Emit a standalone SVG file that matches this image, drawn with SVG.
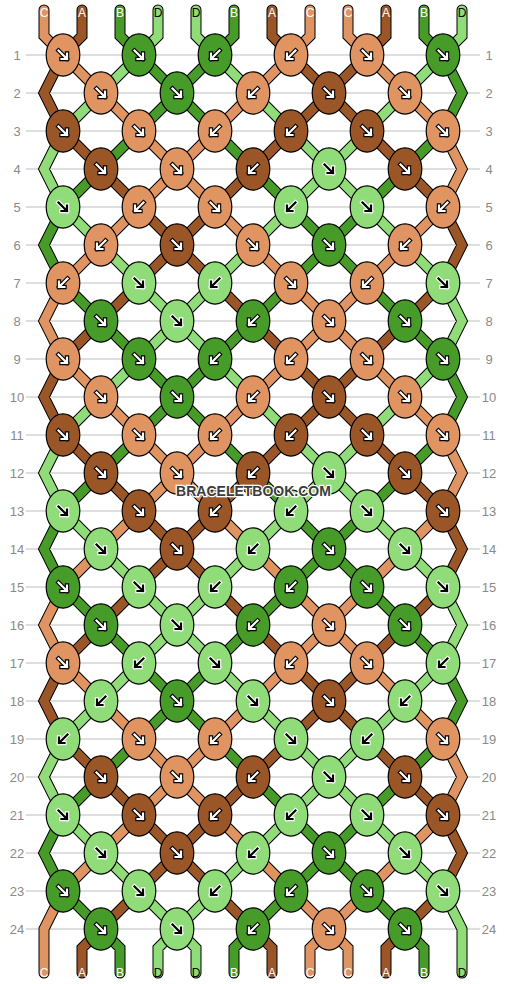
<svg xmlns="http://www.w3.org/2000/svg" xmlns:xlink="http://www.w3.org/1999/xlink" width="506" height="984" viewBox="0 0 506 984">
<style>
.gl{stroke:#bdbdbd;stroke-width:1}
.n{font-family:"Liberation Sans",Arial,sans-serif;font-size:13px;fill:#8a8a8a;text-anchor:middle}
.o{fill:none;stroke:#000;stroke-width:11;stroke-linejoin:miter;stroke-linecap:round}
.t{fill:none;stroke-width:9;stroke-linejoin:miter;stroke-linecap:round}
.tA{stroke:#9b5628}.tB{stroke:#479c29}.tC{stroke:#df9462}.tD{stroke:#8fdc78}
ellipse{rx:16.8px;ry:21.2px;stroke:#000;stroke-width:1.2}
.A{fill:#9b5628}.B{fill:#479c29}.C{fill:#df9462}.D{fill:#8fdc78}
.ao{fill:none;stroke:#000;stroke-width:4.4;stroke-linecap:square}
.ai{fill:none;stroke:#fff;stroke-width:2.2;stroke-linecap:square}
.bo{fill:none;stroke:#fff;stroke-width:4.4;stroke-linecap:square}
.bi{fill:none;stroke:#000;stroke-width:2.2;stroke-linecap:square}
.l{font-family:"Liberation Sans",Arial,sans-serif;font-size:12px;text-anchor:middle}
.lw{fill:#fff}.lk{fill:#000}
.wm{font-family:"Liberation Sans",Arial,sans-serif;font-size:14px;font-weight:bold;fill:#3d3d3d;stroke:#fff;stroke-width:2.5;paint-order:stroke;text-anchor:middle}
</style>
<defs>
<g id="fw"><path class="ao" d="M-4.5-4.5L4 4M4-1.5V4H-1.5"/><path class="ai" d="M-4.5-4.5L4 4M4-1.5V4H-1.5"/></g>
<g id="bw"><path class="ao" d="M4.5-4.5L-4 4M-4-1.5V4H1.5"/><path class="ai" d="M4.5-4.5L-4 4M-4-1.5V4H1.5"/></g>
<g id="fk"><path class="bo" d="M-4.5-4.5L4 4M4-1.5V4H-1.5"/><path class="bi" d="M-4.5-4.5L4 4M4-1.5V4H-1.5"/></g>
<g id="bk"><path class="bo" d="M4.5-4.5L-4 4M-4-1.5V4H1.5"/><path class="bi" d="M4.5-4.5L-4 4M-4-1.5V4H1.5"/></g>
</defs>
<rect width="506" height="984" fill="#fff"/>
<g id="grid">
<line class="gl" x1="26" x2="480" y1="55" y2="55"/><line class="gl" x1="26" x2="480" y1="93" y2="93"/><line class="gl" x1="26" x2="480" y1="131" y2="131"/><line class="gl" x1="26" x2="480" y1="169" y2="169"/><line class="gl" x1="26" x2="480" y1="207" y2="207"/><line class="gl" x1="26" x2="480" y1="245" y2="245"/><line class="gl" x1="26" x2="480" y1="283" y2="283"/><line class="gl" x1="26" x2="480" y1="321" y2="321"/><line class="gl" x1="26" x2="480" y1="359" y2="359"/><line class="gl" x1="26" x2="480" y1="397" y2="397"/><line class="gl" x1="26" x2="480" y1="435" y2="435"/><line class="gl" x1="26" x2="480" y1="473" y2="473"/><line class="gl" x1="26" x2="480" y1="511" y2="511"/><line class="gl" x1="26" x2="480" y1="549" y2="549"/><line class="gl" x1="26" x2="480" y1="587" y2="587"/><line class="gl" x1="26" x2="480" y1="625" y2="625"/><line class="gl" x1="26" x2="480" y1="663" y2="663"/><line class="gl" x1="26" x2="480" y1="701" y2="701"/><line class="gl" x1="26" x2="480" y1="739" y2="739"/><line class="gl" x1="26" x2="480" y1="777" y2="777"/><line class="gl" x1="26" x2="480" y1="815" y2="815"/><line class="gl" x1="26" x2="480" y1="853" y2="853"/><line class="gl" x1="26" x2="480" y1="891" y2="891"/><line class="gl" x1="26" x2="480" y1="929" y2="929"/>
</g>
<g id="rownums">
<text class="n" x="17" y="59.5">1</text><text class="n" x="489" y="59.5">1</text>
<text class="n" x="17" y="97.5">2</text><text class="n" x="489" y="97.5">2</text>
<text class="n" x="17" y="135.5">3</text><text class="n" x="489" y="135.5">3</text>
<text class="n" x="17" y="173.5">4</text><text class="n" x="489" y="173.5">4</text>
<text class="n" x="17" y="211.5">5</text><text class="n" x="489" y="211.5">5</text>
<text class="n" x="17" y="249.5">6</text><text class="n" x="489" y="249.5">6</text>
<text class="n" x="17" y="287.5">7</text><text class="n" x="489" y="287.5">7</text>
<text class="n" x="17" y="325.5">8</text><text class="n" x="489" y="325.5">8</text>
<text class="n" x="17" y="363.5">9</text><text class="n" x="489" y="363.5">9</text>
<text class="n" x="17" y="401.5">10</text><text class="n" x="489" y="401.5">10</text>
<text class="n" x="17" y="439.5">11</text><text class="n" x="489" y="439.5">11</text>
<text class="n" x="17" y="477.5">12</text><text class="n" x="489" y="477.5">12</text>
<text class="n" x="17" y="515.5">13</text><text class="n" x="489" y="515.5">13</text>
<text class="n" x="17" y="553.5">14</text><text class="n" x="489" y="553.5">14</text>
<text class="n" x="17" y="591.5">15</text><text class="n" x="489" y="591.5">15</text>
<text class="n" x="17" y="629.5">16</text><text class="n" x="489" y="629.5">16</text>
<text class="n" x="17" y="667.5">17</text><text class="n" x="489" y="667.5">17</text>
<text class="n" x="17" y="705.5">18</text><text class="n" x="489" y="705.5">18</text>
<text class="n" x="17" y="743.5">19</text><text class="n" x="489" y="743.5">19</text>
<text class="n" x="17" y="781.5">20</text><text class="n" x="489" y="781.5">20</text>
<text class="n" x="17" y="819.5">21</text><text class="n" x="489" y="819.5">21</text>
<text class="n" x="17" y="857.5">22</text><text class="n" x="489" y="857.5">22</text>
<text class="n" x="17" y="895.5">23</text><text class="n" x="489" y="895.5">23</text>
<text class="n" x="17" y="933.5">24</text><text class="n" x="489" y="933.5">24</text>
</g>
<g id="connectors">
<path class="o" d="M44 10V36L63 55 101 93 139 131 177 169 215 207 253 245 291 283 329 321 367 359 405 397 443 435 462 473 443 511 405 549 367 587 329 625 291 663 253 701 215 739 177 777 139 815 101 853 63 891 44 929V973
M82 10V36L63 55 44 93 63 131 101 169 139 207 177 245 215 283 253 321 291 359 329 397 367 435 405 473 443 511 462 549 443 587 405 625 367 663 329 701 291 739 253 777 215 815 177 853 139 891 101 929 82 948V973
M120 10V36L139 55 177 93 215 131 253 169 291 207 329 245 367 283 405 321 443 359 462 397 443 435 405 473 367 511 329 549 291 587 253 625 215 663 177 701 139 739 101 777 63 815 44 853 63 891 101 929 120 948V973
M158 10V36L139 55 101 93 63 131 44 169 63 207 101 245 139 283 177 321 215 359 253 397 291 435 329 473 367 511 405 549 443 587 462 625 443 663 405 701 367 739 329 777 291 815 253 853 215 891 177 929 158 948V973
M196 10V36L215 55 253 93 291 131 329 169 367 207 405 245 443 283 462 321 443 359 405 397 367 435 329 473 291 511 253 549 215 587 177 625 139 663 101 701 63 739 44 777 63 815 101 853 139 891 177 929 196 948V973
M234 10V36L215 55 177 93 139 131 101 169 63 207 44 245 63 283 101 321 139 359 177 397 215 435 253 473 291 511 329 549 367 587 405 625 443 663 462 701 443 739 405 777 367 815 329 853 291 891 253 929 234 948V973
M272 10V36L291 55 329 93 367 131 405 169 443 207 462 245 443 283 405 321 367 359 329 397 291 435 253 473 215 511 177 549 139 587 101 625 63 663 44 701 63 739 101 777 139 815 177 853 215 891 253 929 272 948V973
M310 10V36L291 55 253 93 215 131 177 169 139 207 101 245 63 283 44 321 63 359 101 397 139 435 177 473 215 511 253 549 291 587 329 625 367 663 405 701 443 739 462 777 443 815 405 853 367 891 329 929 310 948V973
M348 10V36L367 55 405 93 443 131 462 169 443 207 405 245 367 283 329 321 291 359 253 397 215 435 177 473 139 511 101 549 63 587 44 625 63 663 101 701 139 739 177 777 215 815 253 853 291 891 329 929 348 948V973
M386 10V36L367 55 329 93 291 131 253 169 215 207 177 245 139 283 101 321 63 359 44 397 63 435 101 473 139 511 177 549 215 587 253 625 291 663 329 701 367 739 405 777 443 815 462 853 443 891 405 929 386 948V973
M424 10V36L443 55 462 93 443 131 405 169 367 207 329 245 291 283 253 321 215 359 177 397 139 435 101 473 63 511 44 549 63 587 101 625 139 663 177 701 215 739 253 777 291 815 329 853 367 891 405 929 424 948V973
M462 10V36L443 55 405 93 367 131 329 169 291 207 253 245 215 283 177 321 139 359 101 397 63 435 44 473 63 511 101 549 139 587 177 625 215 663 253 701 291 739 329 777 367 815 405 853 443 891 462 929V973"/>
<path id="thread-C" class="t tC" d="M44 10V36L63 55 101 93 139 131 177 169 215 207 253 245 291 283 329 321 367 359 405 397 443 435 462 473 443 511 405 549 367 587 329 625 291 663 253 701 215 739 177 777 139 815 101 853 63 891 44 929V973
M310 10V36L291 55 253 93 215 131 177 169 139 207 101 245 63 283 44 321 63 359 101 397 139 435 177 473 215 511 253 549 291 587 329 625 367 663 405 701 443 739 462 777 443 815 405 853 367 891 329 929 310 948V973
M348 10V36L367 55 405 93 443 131 462 169 443 207 405 245 367 283 329 321 291 359 253 397 215 435 177 473 139 511 101 549 63 587 44 625 63 663 101 701 139 739 177 777 215 815 253 853 291 891 329 929 348 948V973"/>
<path id="thread-A" class="t tA" d="M82 10V36L63 55 44 93 63 131 101 169 139 207 177 245 215 283 253 321 291 359 329 397 367 435 405 473 443 511 462 549 443 587 405 625 367 663 329 701 291 739 253 777 215 815 177 853 139 891 101 929 82 948V973
M272 10V36L291 55 329 93 367 131 405 169 443 207 462 245 443 283 405 321 367 359 329 397 291 435 253 473 215 511 177 549 139 587 101 625 63 663 44 701 63 739 101 777 139 815 177 853 215 891 253 929 272 948V973
M386 10V36L367 55 329 93 291 131 253 169 215 207 177 245 139 283 101 321 63 359 44 397 63 435 101 473 139 511 177 549 215 587 253 625 291 663 329 701 367 739 405 777 443 815 462 853 443 891 405 929 386 948V973"/>
<path id="thread-B" class="t tB" d="M120 10V36L139 55 177 93 215 131 253 169 291 207 329 245 367 283 405 321 443 359 462 397 443 435 405 473 367 511 329 549 291 587 253 625 215 663 177 701 139 739 101 777 63 815 44 853 63 891 101 929 120 948V973
M234 10V36L215 55 177 93 139 131 101 169 63 207 44 245 63 283 101 321 139 359 177 397 215 435 253 473 291 511 329 549 367 587 405 625 443 663 462 701 443 739 405 777 367 815 329 853 291 891 253 929 234 948V973
M424 10V36L443 55 462 93 443 131 405 169 367 207 329 245 291 283 253 321 215 359 177 397 139 435 101 473 63 511 44 549 63 587 101 625 139 663 177 701 215 739 253 777 291 815 329 853 367 891 405 929 424 948V973"/>
<path id="thread-D" class="t tD" d="M158 10V36L139 55 101 93 63 131 44 169 63 207 101 245 139 283 177 321 215 359 253 397 291 435 329 473 367 511 405 549 443 587 462 625 443 663 405 701 367 739 329 777 291 815 253 853 215 891 177 929 158 948V973
M196 10V36L215 55 253 93 291 131 329 169 367 207 405 245 443 283 462 321 443 359 405 397 367 435 329 473 291 511 253 549 215 587 177 625 139 663 101 701 63 739 44 777 63 815 101 853 139 891 177 929 196 948V973
M462 10V36L443 55 405 93 367 131 329 169 291 207 253 245 215 283 177 321 139 359 101 397 63 435 44 473 63 511 101 549 139 587 177 625 215 663 253 701 291 739 329 777 367 815 405 853 443 891 462 929V973"/>
</g>
<g id="labels">
<text class="l lw" x="44" y="17">C</text><text class="l lw" x="82" y="17">A</text><text class="l lw" x="120" y="17">B</text><text class="l lk" x="158" y="17">D</text><text class="l lk" x="196" y="17">D</text><text class="l lw" x="234" y="17">B</text><text class="l lw" x="272" y="17">A</text><text class="l lw" x="310" y="17">C</text><text class="l lw" x="348" y="17">C</text><text class="l lw" x="386" y="17">A</text><text class="l lw" x="424" y="17">B</text><text class="l lk" x="462" y="17">D</text>
<text class="l lw" x="44" y="977">C</text><text class="l lw" x="82" y="977">A</text><text class="l lw" x="120" y="977">B</text><text class="l lk" x="158" y="977">D</text><text class="l lk" x="196" y="977">D</text><text class="l lw" x="234" y="977">B</text><text class="l lw" x="272" y="977">A</text><text class="l lw" x="310" y="977">C</text><text class="l lw" x="348" y="977">C</text><text class="l lw" x="386" y="977">A</text><text class="l lw" x="424" y="977">B</text><text class="l lk" x="462" y="977">D</text>
</g>
<g id="knots">
<g id="k1-1"><ellipse class="C" cx="63" cy="55"/><use href="#fw" x="63" y="55"/></g>
<g id="k1-2"><ellipse class="B" cx="139" cy="55"/><use href="#fw" x="139" y="55"/></g>
<g id="k1-3"><ellipse class="B" cx="215" cy="55"/><use href="#bw" x="215" y="55"/></g>
<g id="k1-4"><ellipse class="C" cx="291" cy="55"/><use href="#bw" x="291" y="55"/></g>
<g id="k1-5"><ellipse class="C" cx="367" cy="55"/><use href="#fw" x="367" y="55"/></g>
<g id="k1-6"><ellipse class="B" cx="443" cy="55"/><use href="#fw" x="443" y="55"/></g>
<g id="k2-1"><ellipse class="C" cx="101" cy="93"/><use href="#fw" x="101" y="93"/></g>
<g id="k2-2"><ellipse class="B" cx="177" cy="93"/><use href="#fw" x="177" y="93"/></g>
<g id="k2-3"><ellipse class="C" cx="253" cy="93"/><use href="#bw" x="253" y="93"/></g>
<g id="k2-4"><ellipse class="A" cx="329" cy="93"/><use href="#fw" x="329" y="93"/></g>
<g id="k2-5"><ellipse class="C" cx="405" cy="93"/><use href="#fw" x="405" y="93"/></g>
<g id="k3-1"><ellipse class="A" cx="63" cy="131"/><use href="#fw" x="63" y="131"/></g>
<g id="k3-2"><ellipse class="C" cx="139" cy="131"/><use href="#fw" x="139" y="131"/></g>
<g id="k3-3"><ellipse class="C" cx="215" cy="131"/><use href="#bw" x="215" y="131"/></g>
<g id="k3-4"><ellipse class="A" cx="291" cy="131"/><use href="#bw" x="291" y="131"/></g>
<g id="k3-5"><ellipse class="A" cx="367" cy="131"/><use href="#fw" x="367" y="131"/></g>
<g id="k3-6"><ellipse class="C" cx="443" cy="131"/><use href="#fw" x="443" y="131"/></g>
<g id="k4-1"><ellipse class="A" cx="101" cy="169"/><use href="#fw" x="101" y="169"/></g>
<g id="k4-2"><ellipse class="C" cx="177" cy="169"/><use href="#fw" x="177" y="169"/></g>
<g id="k4-3"><ellipse class="A" cx="253" cy="169"/><use href="#bw" x="253" y="169"/></g>
<g id="k4-4"><ellipse class="D" cx="329" cy="169"/><use href="#fk" x="329" y="169"/></g>
<g id="k4-5"><ellipse class="A" cx="405" cy="169"/><use href="#fw" x="405" y="169"/></g>
<g id="k5-1"><ellipse class="D" cx="63" cy="207"/><use href="#fk" x="63" y="207"/></g>
<g id="k5-2"><ellipse class="C" cx="139" cy="207"/><use href="#bw" x="139" y="207"/></g>
<g id="k5-3"><ellipse class="C" cx="215" cy="207"/><use href="#fw" x="215" y="207"/></g>
<g id="k5-4"><ellipse class="D" cx="291" cy="207"/><use href="#bk" x="291" y="207"/></g>
<g id="k5-5"><ellipse class="D" cx="367" cy="207"/><use href="#fk" x="367" y="207"/></g>
<g id="k5-6"><ellipse class="C" cx="443" cy="207"/><use href="#bw" x="443" y="207"/></g>
<g id="k6-1"><ellipse class="C" cx="101" cy="245"/><use href="#bw" x="101" y="245"/></g>
<g id="k6-2"><ellipse class="A" cx="177" cy="245"/><use href="#fw" x="177" y="245"/></g>
<g id="k6-3"><ellipse class="C" cx="253" cy="245"/><use href="#fw" x="253" y="245"/></g>
<g id="k6-4"><ellipse class="B" cx="329" cy="245"/><use href="#fw" x="329" y="245"/></g>
<g id="k6-5"><ellipse class="C" cx="405" cy="245"/><use href="#bw" x="405" y="245"/></g>
<g id="k7-1"><ellipse class="C" cx="63" cy="283"/><use href="#bw" x="63" y="283"/></g>
<g id="k7-2"><ellipse class="D" cx="139" cy="283"/><use href="#fk" x="139" y="283"/></g>
<g id="k7-3"><ellipse class="D" cx="215" cy="283"/><use href="#bk" x="215" y="283"/></g>
<g id="k7-4"><ellipse class="C" cx="291" cy="283"/><use href="#fw" x="291" y="283"/></g>
<g id="k7-5"><ellipse class="C" cx="367" cy="283"/><use href="#bw" x="367" y="283"/></g>
<g id="k7-6"><ellipse class="D" cx="443" cy="283"/><use href="#fk" x="443" y="283"/></g>
<g id="k8-1"><ellipse class="B" cx="101" cy="321"/><use href="#fw" x="101" y="321"/></g>
<g id="k8-2"><ellipse class="D" cx="177" cy="321"/><use href="#fk" x="177" y="321"/></g>
<g id="k8-3"><ellipse class="B" cx="253" cy="321"/><use href="#bw" x="253" y="321"/></g>
<g id="k8-4"><ellipse class="C" cx="329" cy="321"/><use href="#fw" x="329" y="321"/></g>
<g id="k8-5"><ellipse class="B" cx="405" cy="321"/><use href="#fw" x="405" y="321"/></g>
<g id="k9-1"><ellipse class="C" cx="63" cy="359"/><use href="#fw" x="63" y="359"/></g>
<g id="k9-2"><ellipse class="B" cx="139" cy="359"/><use href="#fw" x="139" y="359"/></g>
<g id="k9-3"><ellipse class="B" cx="215" cy="359"/><use href="#bw" x="215" y="359"/></g>
<g id="k9-4"><ellipse class="C" cx="291" cy="359"/><use href="#bw" x="291" y="359"/></g>
<g id="k9-5"><ellipse class="C" cx="367" cy="359"/><use href="#fw" x="367" y="359"/></g>
<g id="k9-6"><ellipse class="B" cx="443" cy="359"/><use href="#fw" x="443" y="359"/></g>
<g id="k10-1"><ellipse class="C" cx="101" cy="397"/><use href="#fw" x="101" y="397"/></g>
<g id="k10-2"><ellipse class="B" cx="177" cy="397"/><use href="#fw" x="177" y="397"/></g>
<g id="k10-3"><ellipse class="C" cx="253" cy="397"/><use href="#bw" x="253" y="397"/></g>
<g id="k10-4"><ellipse class="A" cx="329" cy="397"/><use href="#fw" x="329" y="397"/></g>
<g id="k10-5"><ellipse class="C" cx="405" cy="397"/><use href="#fw" x="405" y="397"/></g>
<g id="k11-1"><ellipse class="A" cx="63" cy="435"/><use href="#fw" x="63" y="435"/></g>
<g id="k11-2"><ellipse class="C" cx="139" cy="435"/><use href="#fw" x="139" y="435"/></g>
<g id="k11-3"><ellipse class="C" cx="215" cy="435"/><use href="#bw" x="215" y="435"/></g>
<g id="k11-4"><ellipse class="A" cx="291" cy="435"/><use href="#bw" x="291" y="435"/></g>
<g id="k11-5"><ellipse class="A" cx="367" cy="435"/><use href="#fw" x="367" y="435"/></g>
<g id="k11-6"><ellipse class="C" cx="443" cy="435"/><use href="#fw" x="443" y="435"/></g>
<g id="k12-1"><ellipse class="A" cx="101" cy="473"/><use href="#fw" x="101" y="473"/></g>
<g id="k12-2"><ellipse class="C" cx="177" cy="473"/><use href="#fw" x="177" y="473"/></g>
<g id="k12-3"><ellipse class="A" cx="253" cy="473"/><use href="#bw" x="253" y="473"/></g>
<g id="k12-4"><ellipse class="D" cx="329" cy="473"/><use href="#fk" x="329" y="473"/></g>
<g id="k12-5"><ellipse class="A" cx="405" cy="473"/><use href="#fw" x="405" y="473"/></g>
<g id="k13-1"><ellipse class="D" cx="63" cy="511"/><use href="#fk" x="63" y="511"/></g>
<g id="k13-2"><ellipse class="A" cx="139" cy="511"/><use href="#fw" x="139" y="511"/></g>
<g id="k13-3"><ellipse class="A" cx="215" cy="511"/><use href="#bw" x="215" y="511"/></g>
<g id="k13-4"><ellipse class="D" cx="291" cy="511"/><use href="#bk" x="291" y="511"/></g>
<g id="k13-5"><ellipse class="D" cx="367" cy="511"/><use href="#fk" x="367" y="511"/></g>
<g id="k13-6"><ellipse class="A" cx="443" cy="511"/><use href="#fw" x="443" y="511"/></g>
<g id="k14-1"><ellipse class="D" cx="101" cy="549"/><use href="#fk" x="101" y="549"/></g>
<g id="k14-2"><ellipse class="A" cx="177" cy="549"/><use href="#fw" x="177" y="549"/></g>
<g id="k14-3"><ellipse class="D" cx="253" cy="549"/><use href="#bk" x="253" y="549"/></g>
<g id="k14-4"><ellipse class="B" cx="329" cy="549"/><use href="#fw" x="329" y="549"/></g>
<g id="k14-5"><ellipse class="D" cx="405" cy="549"/><use href="#fk" x="405" y="549"/></g>
<g id="k15-1"><ellipse class="B" cx="63" cy="587"/><use href="#fw" x="63" y="587"/></g>
<g id="k15-2"><ellipse class="D" cx="139" cy="587"/><use href="#fk" x="139" y="587"/></g>
<g id="k15-3"><ellipse class="D" cx="215" cy="587"/><use href="#bk" x="215" y="587"/></g>
<g id="k15-4"><ellipse class="B" cx="291" cy="587"/><use href="#bw" x="291" y="587"/></g>
<g id="k15-5"><ellipse class="B" cx="367" cy="587"/><use href="#fw" x="367" y="587"/></g>
<g id="k15-6"><ellipse class="D" cx="443" cy="587"/><use href="#fk" x="443" y="587"/></g>
<g id="k16-1"><ellipse class="B" cx="101" cy="625"/><use href="#fw" x="101" y="625"/></g>
<g id="k16-2"><ellipse class="D" cx="177" cy="625"/><use href="#fk" x="177" y="625"/></g>
<g id="k16-3"><ellipse class="B" cx="253" cy="625"/><use href="#bw" x="253" y="625"/></g>
<g id="k16-4"><ellipse class="C" cx="329" cy="625"/><use href="#fw" x="329" y="625"/></g>
<g id="k16-5"><ellipse class="B" cx="405" cy="625"/><use href="#fw" x="405" y="625"/></g>
<g id="k17-1"><ellipse class="C" cx="63" cy="663"/><use href="#fw" x="63" y="663"/></g>
<g id="k17-2"><ellipse class="D" cx="139" cy="663"/><use href="#bk" x="139" y="663"/></g>
<g id="k17-3"><ellipse class="D" cx="215" cy="663"/><use href="#fk" x="215" y="663"/></g>
<g id="k17-4"><ellipse class="C" cx="291" cy="663"/><use href="#bw" x="291" y="663"/></g>
<g id="k17-5"><ellipse class="C" cx="367" cy="663"/><use href="#fw" x="367" y="663"/></g>
<g id="k17-6"><ellipse class="D" cx="443" cy="663"/><use href="#bk" x="443" y="663"/></g>
<g id="k18-1"><ellipse class="D" cx="101" cy="701"/><use href="#bk" x="101" y="701"/></g>
<g id="k18-2"><ellipse class="B" cx="177" cy="701"/><use href="#fw" x="177" y="701"/></g>
<g id="k18-3"><ellipse class="D" cx="253" cy="701"/><use href="#fk" x="253" y="701"/></g>
<g id="k18-4"><ellipse class="A" cx="329" cy="701"/><use href="#fw" x="329" y="701"/></g>
<g id="k18-5"><ellipse class="D" cx="405" cy="701"/><use href="#bk" x="405" y="701"/></g>
<g id="k19-1"><ellipse class="D" cx="63" cy="739"/><use href="#bk" x="63" y="739"/></g>
<g id="k19-2"><ellipse class="C" cx="139" cy="739"/><use href="#fw" x="139" y="739"/></g>
<g id="k19-3"><ellipse class="C" cx="215" cy="739"/><use href="#bw" x="215" y="739"/></g>
<g id="k19-4"><ellipse class="D" cx="291" cy="739"/><use href="#fk" x="291" y="739"/></g>
<g id="k19-5"><ellipse class="D" cx="367" cy="739"/><use href="#bk" x="367" y="739"/></g>
<g id="k19-6"><ellipse class="C" cx="443" cy="739"/><use href="#fw" x="443" y="739"/></g>
<g id="k20-1"><ellipse class="A" cx="101" cy="777"/><use href="#fw" x="101" y="777"/></g>
<g id="k20-2"><ellipse class="C" cx="177" cy="777"/><use href="#fw" x="177" y="777"/></g>
<g id="k20-3"><ellipse class="A" cx="253" cy="777"/><use href="#bw" x="253" y="777"/></g>
<g id="k20-4"><ellipse class="D" cx="329" cy="777"/><use href="#fk" x="329" y="777"/></g>
<g id="k20-5"><ellipse class="A" cx="405" cy="777"/><use href="#fw" x="405" y="777"/></g>
<g id="k21-1"><ellipse class="D" cx="63" cy="815"/><use href="#fk" x="63" y="815"/></g>
<g id="k21-2"><ellipse class="A" cx="139" cy="815"/><use href="#fw" x="139" y="815"/></g>
<g id="k21-3"><ellipse class="A" cx="215" cy="815"/><use href="#bw" x="215" y="815"/></g>
<g id="k21-4"><ellipse class="D" cx="291" cy="815"/><use href="#bk" x="291" y="815"/></g>
<g id="k21-5"><ellipse class="D" cx="367" cy="815"/><use href="#fk" x="367" y="815"/></g>
<g id="k21-6"><ellipse class="A" cx="443" cy="815"/><use href="#fw" x="443" y="815"/></g>
<g id="k22-1"><ellipse class="D" cx="101" cy="853"/><use href="#fk" x="101" y="853"/></g>
<g id="k22-2"><ellipse class="A" cx="177" cy="853"/><use href="#fw" x="177" y="853"/></g>
<g id="k22-3"><ellipse class="D" cx="253" cy="853"/><use href="#bk" x="253" y="853"/></g>
<g id="k22-4"><ellipse class="B" cx="329" cy="853"/><use href="#fw" x="329" y="853"/></g>
<g id="k22-5"><ellipse class="D" cx="405" cy="853"/><use href="#fk" x="405" y="853"/></g>
<g id="k23-1"><ellipse class="B" cx="63" cy="891"/><use href="#fw" x="63" y="891"/></g>
<g id="k23-2"><ellipse class="D" cx="139" cy="891"/><use href="#fk" x="139" y="891"/></g>
<g id="k23-3"><ellipse class="D" cx="215" cy="891"/><use href="#bk" x="215" y="891"/></g>
<g id="k23-4"><ellipse class="B" cx="291" cy="891"/><use href="#bw" x="291" y="891"/></g>
<g id="k23-5"><ellipse class="B" cx="367" cy="891"/><use href="#fw" x="367" y="891"/></g>
<g id="k23-6"><ellipse class="D" cx="443" cy="891"/><use href="#fk" x="443" y="891"/></g>
<g id="k24-1"><ellipse class="B" cx="101" cy="929"/><use href="#fw" x="101" y="929"/></g>
<g id="k24-2"><ellipse class="D" cx="177" cy="929"/><use href="#fk" x="177" y="929"/></g>
<g id="k24-3"><ellipse class="B" cx="253" cy="929"/><use href="#bw" x="253" y="929"/></g>
<g id="k24-4"><ellipse class="C" cx="329" cy="929"/><use href="#fw" x="329" y="929"/></g>
<g id="k24-5"><ellipse class="B" cx="405" cy="929"/><use href="#fw" x="405" y="929"/></g>
</g>
<text class="wm" x="253.5" y="496">BRACELETBOOK.COM</text>
</svg>
